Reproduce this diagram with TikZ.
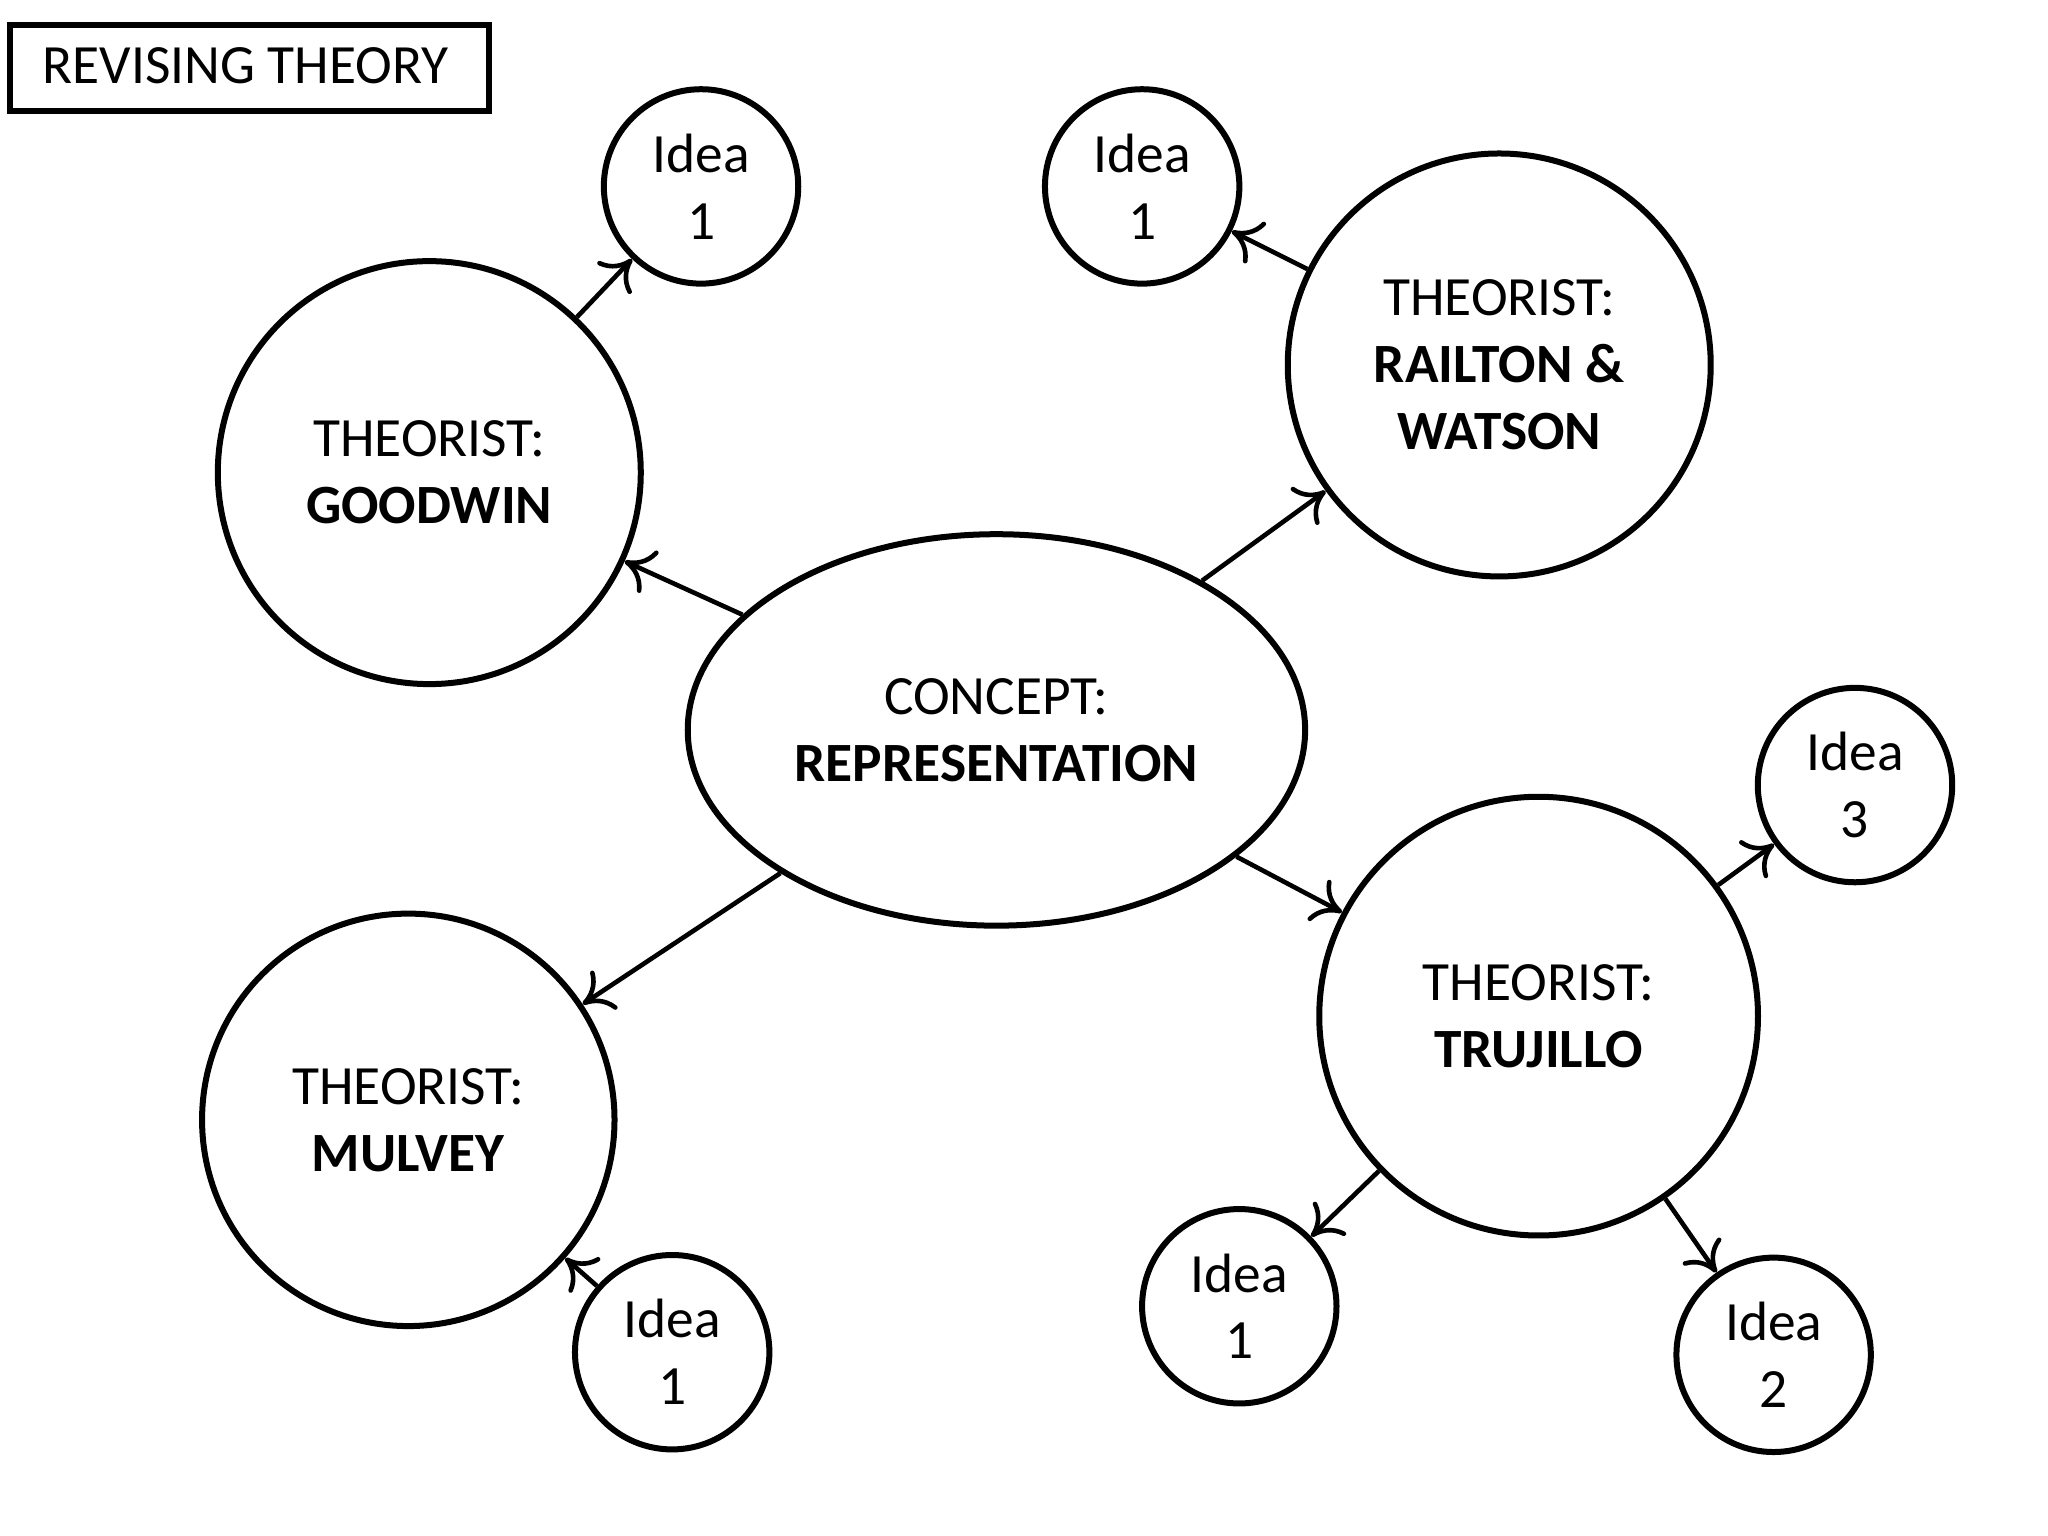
\documentclass[tikz,border=0pt]{standalone}
\usepackage{fontspec}
\setmainfont{Carlito}
\usetikzlibrary{shapes.geometric,arrows.meta}
\begin{document}
\begin{tikzpicture}[x=0.01cm,y=-0.01cm,
  big/.style={circle,draw,line width=1.3pt,align=center,font=\fontsize{12}{14.5}\selectfont},
  idea/.style={circle,draw,line width=1.3pt,align=center,minimum size=1.48cm,inner sep=0pt,font=\fontsize{12}{14.5}\selectfont},
  conn/.style={line width=1pt,-{To[length=6pt,width=10pt]}}]
\useasboundingbox (0,0) rectangle (1560,1170);
\node[draw,line width=1.3pt,minimum width=3.65cm,minimum height=0.65cm,anchor=north west,inner sep=0pt] (title) at (5,17) {};
\node[anchor=west,font=\fontsize{12}{14}\selectfont] (tt) at (20,50) {REVISING THEORY};
\node[ellipse,draw,line width=1.3pt,minimum width=4.7cm,minimum height=2.98cm,align=center,font=\fontsize{12}{14.5}\selectfont] (c) at (759,556) {CONCEPT:\\\textbf{REPRESENTATION}};
\node[big,minimum size=3.22cm] (g) at (327,360) {THEORIST:\\\textbf{GOODWIN}};
\node[big,minimum size=3.22cm] (r) at (1142,278) {THEORIST:\\\textbf{RAILTON \&}\\\textbf{WATSON}};
\node[big,minimum size=3.34cm] (t) at (1172,774) {THEORIST:\\\textbf{TRUJILLO}};
\node[big,minimum size=3.14cm] (m) at (311,853) {THEORIST:\\\textbf{MULVEY}};
\node[idea] (gi) at (534,142) {Idea\\1};
\node[idea] (ri) at (870,142) {Idea\\1};
\node[idea] (t3) at (1413,598) {Idea\\3};
\node[idea] (t1) at (944,995) {Idea\\1};
\node[idea] (t2) at (1351,1032) {Idea\\2};
\node[idea] (mi) at (512,1030) {Idea\\1};
\draw[conn] (c) -- (g);
\draw[conn] (c) -- (r);
\draw[conn] (c) -- (t);
\draw[conn] (c) -- (m);
\draw[conn] (g) -- (gi);
\draw[conn] (r) -- (ri);
\draw[conn] (t) -- (t3);
\draw[conn] (t) -- (t1);
\draw[conn] (t) -- (t2);
\draw[conn] (mi) -- (m);
\end{tikzpicture}
\end{document}
